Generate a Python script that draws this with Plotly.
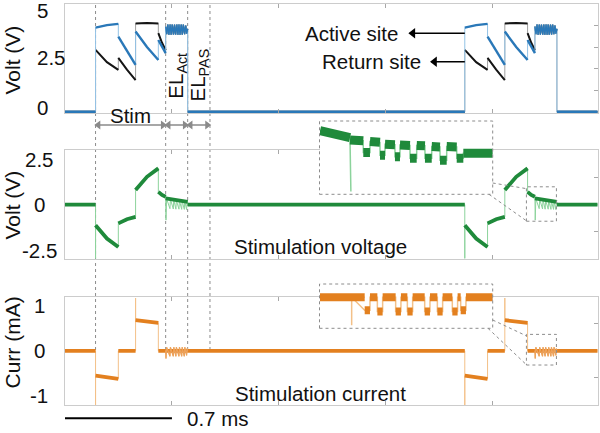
import plotly.graph_objects as go

W, H = 600, 433

# ---- data (time in ms) ----
x_max = 3.487
x_ticks = [0.7, 1.4, 2.1, 2.8]
pulse_starts = [0.2, 2.617]
# segment edges relative to pulse start: cathodic, interphase, anodic, tail, EL_Act, EL_PAS
edges = [0.0, 0.149, 0.262, 0.411, 0.459, 0.603, 0.749]

# electrode voltages (V): start / middle / end of the four stim segments
active_start = [3.9, 3.49, 3.72, 3.33]
active_mid = [4.02, 2.8, 3.0, 3.0]
active_end = [4.08, 2.17, 2.4, 2.72]
return_start = [2.87, 2.5, 4.1, 3.65]
return_mid = [2.3, 1.95, 4.12, 3.2]
return_end = [1.94, 1.47, 4.1, 2.85]
# ripple during EL_Act (relative ms, V)
ripple_t = [0, 0.007, 0.014, 0.021, 0.029, 0.036, 0.043, 0.051, 0.058, 0.065, 0.073,
            0.080, 0.087, 0.094, 0.102, 0.109, 0.116, 0.124, 0.131, 0.138, 0.144]
ripple_v = [3.95, 3.6, 4.05, 3.58, 4.05, 3.58, 4.05, 3.58, 4.05, 3.58, 4.05,
            3.58, 4.05, 3.58, 4.05, 3.58, 4.05, 3.6, 4.0, 3.62, 3.85]

# stimulation voltage (V)
stimv_start = [-1.13, -1.03, 0.8, 0.7]
stimv_mid = [-1.86, -0.8, 1.53, 0.53]
stimv_end = [-2.32, -0.67, 1.99, 0.43]
stimv_spikes = {0: -2.95}
comb_t = [0.0, 0.002, 0.006, 0.028, 0.031, 0.050, 0.053, 0.067, 0.070,
          0.087, 0.090, 0.105, 0.108, 0.122, 0.125, 0.137, 0.140, 0.144]
stimv_comb = [0.34, -0.85, 0.33, -0.22, 0.3, -0.24, 0.27, -0.25, 0.24,
              -0.25, 0.22, -0.26, 0.2, -0.26, 0.18, -0.27, 0.16, 0.15]
stimv_el_base = [0.34, 0.15]

# stimulation current (mA)
curr_start = [-0.55, 0.0, 0.68, 0.0]
curr_mid = [-0.59, 0.0, 0.64, 0.0]
curr_end = [-0.62, 0.0, 0.62, 0.0]
curr_spikes = {0: -1.3, 2: 1.17}
curr_comb = [0.0, -0.17, 0.08, -0.12, 0.08, -0.12, 0.08, -0.12, 0.08,
             -0.12, 0.08, -0.12, 0.08, -0.12, 0.08, -0.1, 0.05, 0.0]
curr_el_base = [0.0, 0.0]

# inset (voltage): segment edges and start/end levels
ins_t_range = [3.0204, 3.2167]
ins2_t = [3.0204, 3.0545, 3.0696, 3.0772, 3.0886, 3.0943, 3.1056, 3.1113, 3.1227,
          3.1303, 3.1397, 3.1474, 3.1568, 3.1644, 3.1758, 3.1833, 3.2167]
ins2_v0 = [0.73, 0.49, 0.17, 0.45, 0.10, 0.38, 0.06, 0.36, 0.02, 0.35, 0.02, 0.32, -0.03, 0.32, 0.02, 0.15]
ins2_v1 = [0.55, 0.47, 0.17, 0.43, 0.10, 0.37, 0.06, 0.35, 0.02, 0.34, 0.02, 0.31, -0.03, 0.31, 0.02, 0.15]
ins2_spike = (3.0555, -0.84)
ins2_range = [-0.91, 0.98]

# inset (current)
ins3_t = [3.0204, 3.0712, 3.0772, 3.0856, 3.0916, 3.1064, 3.1124, 3.1197, 3.1257,
          3.1394, 3.1454, 3.1538, 3.1598, 3.1708, 3.1768, 3.1803, 3.1863, 3.2167]
ins3_v = [0, -0.2, 0, -0.22, 0, -0.22, 0, -0.22, 0, -0.22, 0, -0.22, 0, -0.22, 0, -0.2, 0]
ins3_spike = (3.0564, -0.43)
ins3_range = [-0.477, 0.205]

# tick labels
p1_ticks, p1_labels = [0, 2.5, 5], ['0', '2.5', '5']
p2_ticks, p2_labels = [-2.5, 0, 2.5], ['-2.5', '0', '2.5']
p3_ticks, p3_labels = [-1, 0, 1], ['-1', '0', '1']


def build(start, mid, end, spikes, el_t, el_v, base_t=None, base_v=None):
    # thin path (whole signal), thick path (level segments only), EL_Act ripple path
    thin, thick, el = [], [], []
    t_prev = 0.0
    for p in pulse_starts:
        pieces = [[(t_prev, 0.0), (p, 0.0)]]
        thin += [(t_prev, 0.0), (p, 0.0)]
        for i in range(4):
            a, b = p + edges[i], p + edges[i + 1]
            seg = [(a, start[i]), ((a + b) / 2, mid[i]), (b, end[i])]
            pieces.append(seg)
            if i in spikes:
                thin.append((a, spikes[i]))
            thin += seg
        if base_t is not None:
            pieces.append([(p + edges[4] + t, v) for t, v in zip(base_t, base_v)])
        ripple = [(p + edges[4] + t, v) for t, v in zip(el_t, el_v)]
        thin += ripple
        el += ripple + [(None, None)]
        for piece in pieces:
            thick += piece + [(None, None)]
        t_prev = p + edges[5]
    thin += [(t_prev, 0.0), (x_max, 0.0)]
    thick += [(t_prev, 0.0), (x_max, 0.0)]
    return thin, thick, el


fig = go.Figure()


def line(path, color, width, ax):
    fig.add_trace(go.Scatter(x=[q[0] for q in path], y=[q[1] for q in path], mode='lines',
                             line=dict(color=color, width=width), xaxis='x' + ax, yaxis='y' + ax,
                             hoverinfo='skip'))


blue, blue_l = '#2a78b8', '#93c3e6'
black, black_l = '#151515', '#a0a0a0'
green, green_l = '#1f8a3b', '#8cd39c'
orange, orange_l = '#e3801f', '#f3c088'

thin, thick, el = build(return_start, return_mid, return_end, {}, ripple_t, ripple_v)
line(thin, black_l, 1, '')
line(thick, black, 2.0, '')
line(el, black, 1.2, '')
thin, thick, el = build(active_start, active_mid, active_end, {}, ripple_t, ripple_v)
line(thin, blue_l, 1, '')
line(thick, blue, 2.4, '')
line(el, blue, 1.3, '')
thin, thick, el = build(stimv_start, stimv_mid, stimv_end, stimv_spikes, comb_t, stimv_comb,
                        [0, 0.144], stimv_el_base)
line(thin, green_l, 1, '2')
line(thick, green, 3.8, '2')
thin, thick, el = build(curr_start, curr_mid, curr_end, curr_spikes, comb_t, curr_comb,
                        [0, 0.144], curr_el_base)
line(thin, orange_l, 1, '3')
line(thick, orange, 3.8, '3')
line(el, '#eca25c', 1.2, '3')

# insets: white background, then signal
for ax, rng in [('4', ins2_range), ('5', ins3_range)]:
    fig.add_trace(go.Scatter(x=[ins_t_range[0], ins_t_range[1], ins_t_range[1], ins_t_range[0]],
                             y=[rng[0], rng[0], rng[1], rng[1]], fill='toself', fillcolor='white',
                             mode='lines', line=dict(width=0), xaxis='x' + ax, yaxis='y' + ax,
                             hoverinfo='skip'))

thin2, thick2 = [], []
for i in range(len(ins2_v0)):
    if i == 1:
        thin2.append(ins2_spike)
    thin2 += [(ins2_t[i], ins2_v0[i]), (ins2_t[i + 1], ins2_v1[i])]
    thick2 += [(ins2_t[i], ins2_v0[i]), (ins2_t[i + 1], ins2_v1[i]), (None, None)]
line(thin2, green_l, 1.5, '4')
line(thick2, green, 9, '4')

thin3, thick3 = [], []
for i in range(len(ins3_v)):
    if i == 1:
        thin3 += [(ins3_spike[0], 0), ins3_spike, (ins3_spike[0], 0)]
    thin3 += [(ins3_t[i], ins3_v[i]), (ins3_t[i + 1], ins3_v[i])]
    thick3 += [(ins3_t[i], ins3_v[i]), (ins3_t[i + 1], ins3_v[i]), (None, None)]
line(thin3, orange_l, 1.5, '5')
line(thick3, orange, 8, '5')

# ---- layout ----
def yd(top, bot):
    return [1 - bot / H, 1 - top / H]


x_dom = [65 / W, 597.7 / W]
px_per_ms = (x_dom[1] - x_dom[0]) * W / x_max
axis = dict(showline=True, linecolor='#cccccc', linewidth=1, ticks='inside', ticklen=4,
            tickcolor='#a8a8a8', showticklabels=False, showgrid=False, zeroline=False)
panels = [(4, 113, [-0.06, 5.0], [1, 2, 3, 4]),
          (150, 259.3, [-3, 3], [-1.5, 1.5]),
          (296.7, 405, [-1.2, 1.2], [-0.6, 0.6])]
lay = {}
for i, (top, bot, rng, rt) in enumerate(panels):
    s = '' if i == 0 else str(i + 1)
    lay['xaxis' + s] = dict(axis, domain=x_dom, range=[0, x_max], tickvals=x_ticks,
                            mirror='ticks', anchor='y' + s)
    lay['yaxis' + s] = dict(axis, domain=yd(top, bot), range=rng, tickvals=rt, side='right',
                            mirror=True, anchor='x' + s)
hidden = dict(visible=False, showgrid=False, zeroline=False)
lay['xaxis4'] = dict(hidden, domain=[320 / W, 492.7 / W], range=ins_t_range, anchor='y4')
lay['yaxis4'] = dict(hidden, domain=yd(121, 194.3), range=ins2_range, anchor='x4')
lay['xaxis5'] = dict(hidden, domain=[320 / W, 492.7 / W], range=ins_t_range, anchor='y5')
lay['yaxis5'] = dict(hidden, domain=yd(284, 328.3), range=ins3_range, anchor='x5')
# full-page overlay axis (time across, pixel rows down) for the arrows
lay['xaxis6'] = dict(hidden, domain=[0, 1], range=[-65 / px_per_ms, (W - 65) / px_per_ms], anchor='y6')
lay['yaxis6'] = dict(hidden, domain=[0, 1], range=[H, 0], anchor='x6')

# arrows: lines, then heads as triangle markers
p0 = pulse_starts[0]
gray = '#8a8a8a'
for a, b in [(edges[0], edges[4]), (edges[4], edges[5]), (edges[5], edges[6])]:
    fig.add_trace(go.Scatter(x=[p0 + a, p0 + b], y=[125, 125], mode='lines',
                             line=dict(color=gray, width=1.5), xaxis='x6', yaxis='y6', hoverinfo='skip'))
    fig.add_trace(go.Scatter(x=[p0 + a + 0.018, p0 + b - 0.018], y=[125, 125], mode='markers',
                             marker=dict(symbol=['triangle-left', 'triangle-right'], size=8, color=gray),
                             xaxis='x6', yaxis='y6', hoverinfo='skip'))
for tail, tip, row in [(2.617, 2.257, 33.3), (2.617, 2.399, 61.7)]:
    fig.add_trace(go.Scatter(x=[tail, tip], y=[row, row], mode='lines',
                             line=dict(color='black', width=1.5), xaxis='x6', yaxis='y6', hoverinfo='skip'))
    fig.add_trace(go.Scatter(x=[tip + 0.02], y=[row], mode='markers',
                             marker=dict(symbol='triangle-left', size=9, color='black'),
                             xaxis='x6', yaxis='y6', hoverinfo='skip'))

font = dict(family='Liberation Sans, Arial, sans-serif', size=20.5, color='#111111')
fig.update_layout(width=W, height=H, margin=dict(l=0, r=0, t=0, b=0), showlegend=False,
                  plot_bgcolor='rgba(0,0,0,0)', paper_bgcolor='white', font=font, **lay)

dot = dict(color='#8c8c8c', width=1, dash='dot')
shapes = []
for e in [edges[0], edges[4], edges[5], edges[6]]:
    shapes.append(dict(type='line', xref='x', yref='paper', x0=p0 + e, x1=p0 + e,
                       y0=1 - 350 / H, y1=1 - 5 / H, line=dot, layer='below'))
# inset frames and the zoomed regions
for top, bot in [(121, 194.3), (284, 328.3)]:
    shapes.append(dict(type='rect', xref='paper', yref='paper', x0=319.5 / W, x1=492.7 / W,
                       y0=1 - bot / H, y1=1 - top / H, line=dot, layer='above'))
shapes.append(dict(type='rect', xref='x2', yref='y2', x0=ins_t_range[0], x1=ins_t_range[1],
                   y0=ins2_range[0], y1=ins2_range[1], line=dot))
shapes.append(dict(type='rect', xref='x3', yref='y3', x0=ins_t_range[0], x1=ins_t_range[1],
                   y0=-0.314, y1=0.365, line=dot))
for (xa, ya), (xb, yb) in [((489, 194.3), (526.7, 221)), ((492.7, 183), (526.7, 188.7)),
                           ((488, 328.3), (526.7, 365)), ((492.7, 320), (526.7, 336))]:
    shapes.append(dict(type='line', xref='paper', yref='paper', x0=xa / W, y0=1 - ya / H,
                       x1=xb / W, y1=1 - yb / H, line=dot))
# scale bar
shapes.append(dict(type='line', xref='x', yref='paper', x0=0, x1=0.7, y0=1 - 418.3 / H,
                   y1=1 - 418.3 / H, line=dict(color='black', width=2)))

ann = []


def text(t, x, y, **kw):
    d = dict(text=t, xref='paper', yref='paper', x=x / W, y=1 - y / H, showarrow=False,
             xanchor='center', yanchor='middle')
    d.update(kw)
    ann.append(d)


for title, yc in [('Volt (V)', 60), ('Volt (V)', 205), ('Curr (mA)', 343)]:
    text(title, 11.5, yc, textangle=-90, font=dict(size=21))
for vals, labs, yref, xa, anchor, shifts in [
        (p1_ticks, p1_labels, 'y', 35, 'left', [4, 0, -7]),
        (p2_ticks, p2_labels, 'y2', 39, 'center', [0, 0, 0]),
        (p3_ticks, p3_labels, 'y3', 39, 'center', [0, 0, 0])]:
    for v, l, sh in zip(vals, labs, shifts):
        ann.append(dict(text=l, xref='paper', yref=yref, x=xa / W, y=v, xanchor=anchor,
                        yanchor='middle', yshift=sh, showarrow=False))
text('Stim', 130, 115.5)
text('EL<sub>Act</sub>', 176.7, 76, textangle=-90)
text('EL<sub>PAS</sub>', 198.5, 75, textangle=-90)
text('Active site', 351, 33.3)
text('Return site', 371, 61.7)
text('Stimulation voltage', 320, 246.5)
text('Stimulation current', 320, 393.3)
text('0.7 ms', 185, 418.3, xanchor='left')

fig.update_layout(shapes=shapes, annotations=ann)
fig.write_html('out.html', config={'responsive': False, 'displayModeBar': False},
               post_script="document.body.style.margin='0';")
